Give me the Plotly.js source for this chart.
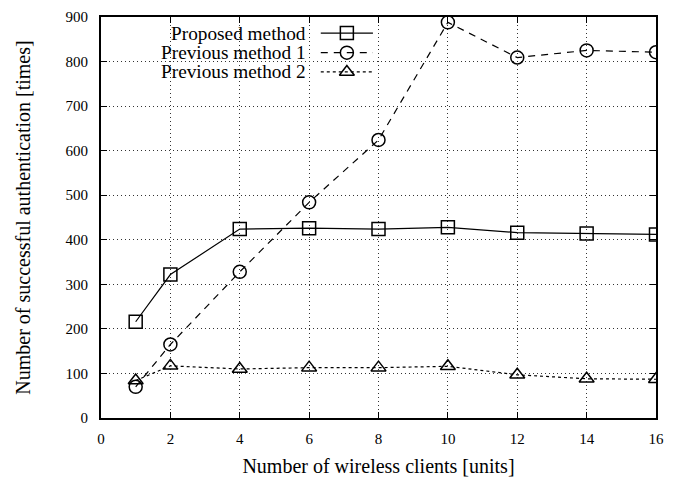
<!DOCTYPE html>
<html>
<head>
<meta charset="utf-8">
<script src="https://cdn.plot.ly/plotly-3.0.1.min.js"></script>
<style>html,body{margin:0;padding:0;background:#fff;}#chart{width:680px;height:477px;}</style>
</head>
<body>
<div id="chart"></div>
<script>
const clients = [1, 2, 4, 6, 8, 10, 12, 14, 16];
const proposed = [216, 322, 424, 426, 424, 428, 416, 414, 412];
const previous1 = [70, 165, 328, 484, 624, 888, 809, 825, 821];
const previous2 = [84, 117, 110, 113, 113, 116, 97, 88, 87];
const seriesNames = ["Proposed method", "Previous method 1", "Previous method 2"];
const xTicks = [0, 2, 4, 6, 8, 10, 12, 14, 16];
const yTicks = [0, 100, 200, 300, 400, 500, 600, 700, 800, 900];

const FONT = 'Liberation Serif, Times New Roman, serif';
const styles = [
  {dash: 'solid', symbol: 'square-open', size: 13},
  {dash: '7px,6px', symbol: 'circle-open', size: 13},
  {dash: '3px,3px', symbol: 'triangle-up-open', size: 13}
];
const dataSets = [proposed, previous1, previous2];

const traces = dataSets.map((ys, i) => ({
  x: clients, y: ys, type: 'scatter', mode: 'lines+markers',
  name: seriesNames[i], showlegend: false,
  line: {color: '#000', width: 1.2, dash: styles[i].dash},
  marker: {symbol: styles[i].symbol, size: styles[i].size, color: '#000', line: {width: 1.5, color: '#000'}}
}));

// legend samples (text left, sample right, gnuplot style) on a hidden overlay axis
const legendRowsY = [0.960, 0.911, 0.863];
const legendLineX = [0.396, 0.490];
seriesNames.forEach((n, i) => {
  traces.push({
    x: legendLineX, y: [legendRowsY[i], legendRowsY[i]], xaxis: 'x2', yaxis: 'y2',
    type: 'scatter', mode: 'lines', showlegend: false, hoverinfo: 'skip',
    line: {color: '#000', width: 1.2, dash: styles[i].dash}
  });
  traces.push({
    x: [(legendLineX[0] + legendLineX[1]) / 2], y: [legendRowsY[i]], xaxis: 'x2', yaxis: 'y2',
    type: 'scatter', mode: 'markers', showlegend: false, hoverinfo: 'skip',
    marker: {symbol: styles[i].symbol, size: styles[i].size, color: '#000', line: {width: 1.5, color: '#000'}}
  });
});

const annotations = seriesNames.map((n, i) => ({
  text: n, xref: 'paper', yref: 'paper', x: 0.373, y: legendRowsY[i],
  xanchor: 'right', yanchor: 'middle', showarrow: false,
  font: {family: FONT, size: 19.3, color: '#000'}
}));

const axisCommon = {
  showline: true, linecolor: '#000', linewidth: 2, mirror: 'ticks',
  ticks: 'inside', ticklen: 6, tickwidth: 1, tickcolor: '#000',
  showgrid: true, gridcolor: '#333', gridwidth: 1, griddash: '1px,3px',
  zeroline: false, tickfont: {family: FONT, size: 15, color: '#000'}
};

const layout = {
  width: 680, height: 477,
  margin: {l: 101, r: 24, t: 17, b: 59},
  paper_bgcolor: '#fff', plot_bgcolor: '#fff',
  font: {family: FONT, color: '#000'},
  showlegend: false,
  xaxis: Object.assign({}, axisCommon, {
    range: [0, 16], tickvals: xTicks, ticktext: xTicks.map(String), ticklabelstandoff: 6,
    title: {text: 'Number of wireless clients [units]', font: {family: FONT, size: 20, color: '#000'}, standoff: 13}
  }),
  yaxis: Object.assign({}, axisCommon, {
    range: [0, 900], tickvals: yTicks, ticktext: yTicks.map(String), ticklabelstandoff: 8,
    title: {text: 'Number of successful authentication [times]', font: {family: FONT, size: 20, color: '#000'}, standoff: 30}
  }),
  xaxis2: {overlaying: 'x', range: [0, 1], visible: false, fixedrange: true},
  yaxis2: {overlaying: 'y', range: [0, 1], visible: false, fixedrange: true},
  shapes: [{
    type: 'rect', xref: 'paper', yref: 'paper', x0: 0.003, x1: 0.512, y0: 0.838, y1: 0.997,
    fillcolor: '#fff', line: {width: 0}, layer: 'between'
  }],
  annotations: annotations
};

Plotly.newPlot('chart', traces, layout, {displayModeBar: false, staticPlot: true});
</script>
</body>
</html>
